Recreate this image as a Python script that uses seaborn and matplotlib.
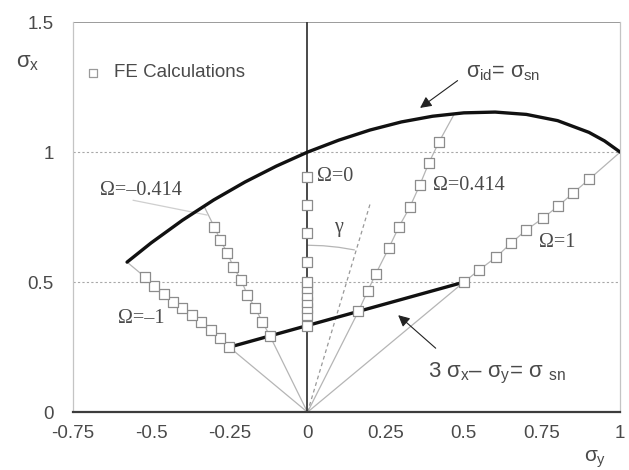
import pandas as pd
import matplotlib
matplotlib.use("Agg")
import matplotlib.pyplot as plt
import seaborn as sns

# ----------------------------
# Data
# ----------------------------
# outer curve  sigma_id = sigma_sn
curve_sy = [-0.577, -0.5, -0.4, -0.3, -0.2, -0.1, 0.0, 0.1, 0.2, 0.3, 0.4,
            0.5, 0.6, 0.7, 0.8, 0.9, 0.95, 1.0]
curve_sx = [0.577, 0.651, 0.738, 0.816, 0.885, 0.946, 1.0, 1.046, 1.085, 1.116,
            1.138, 1.151, 1.154, 1.145, 1.121, 1.076, 1.043, 1.0]

# lower limit line  3 sx - sy = ssn
line_sy = [-0.25, 0.5]
line_sx = [0.25, 0.5]

# FE calculations for each load ratio Omega
fe_m1_sy = [-0.25, -0.28, -0.31, -0.34, -0.37, -0.40, -0.43, -0.46, -0.49, -0.52]
fe_m1_sx = [0.25, 0.285, 0.315, 0.345, 0.375, 0.40, 0.425, 0.455, 0.485, 0.52]

fe_m0414_sy = [-0.12, -0.144, -0.167, -0.192, -0.212, -0.237, -0.256, -0.279, -0.298]
fe_m0414_sx = [0.293, 0.346, 0.40, 0.45, 0.508, 0.558, 0.612, 0.662, 0.712]

fe_0_sy = [0, 0, 0, 0, 0, 0, 0, 0, 0, 0, 0]
fe_0_sx = [0.333, 0.373, 0.40, 0.423, 0.45, 0.477, 0.50, 0.577, 0.688, 0.796, 0.904]

fe_p0414_sy = [0.163, 0.192, 0.218, 0.26, 0.292, 0.327, 0.359, 0.388, 0.42]
fe_p0414_sx = [0.388, 0.465, 0.531, 0.631, 0.712, 0.788, 0.873, 0.958, 1.038]

fe_p1_sy = [0.5, 0.548, 0.603, 0.651, 0.699, 0.753, 0.801, 0.849, 0.901]
fe_p1_sx = [0.5, 0.546, 0.596, 0.65, 0.70, 0.746, 0.792, 0.842, 0.896]

# where each load path meets the outer curve
end_sy = {"-1": -0.577, "-0.414": -0.33, "0.414": 0.47, "1": 1.0}
end_sx = {"-1": 0.577, "-0.414": 0.79, "0.414": 1.148, "1": 1.0}

# direction of angle gamma
gamma_sy = [0.0, 0.2]
gamma_sx = [0.0, 0.8]
arc_sy = [0.0, 0.05, 0.10, 0.15]
arc_sx = [0.642, 0.640, 0.634, 0.624]

xticks = [-0.75, -0.5, -0.25, 0, 0.25, 0.5, 0.75, 1]
xtick_labels = ["-0.75", "-0.5", "-0.25", "0", "0.25", "0.5", "0.75", "1"]
yticks = [0, 0.5, 1, 1.5]
ytick_labels = ["0", "0.5", "1", "1.5"]

# ----------------------------
# Style
# ----------------------------
sns.set_style("white")
plt.rcParams["font.family"] = ["Liberation Sans", "DejaVu Sans"]
plt.rcParams["mathtext.fontset"] = "custom"
plt.rcParams["mathtext.rm"] = "Liberation Sans"
plt.rcParams["mathtext.it"] = "Liberation Sans"

TXT = "#4a4a4a"
GRAY = "#b5b5b5"

fig = plt.figure(figsize=(6.29, 4.70), dpi=100)
ax = fig.add_axes([0.116, 0.123, 0.870, 0.830])

# ----------------------------
# Thin load paths
# ----------------------------
fe_sets = {
    "-1": (fe_m1_sy, fe_m1_sx),
    "-0.414": (fe_m0414_sy, fe_m0414_sx),
    "0": (fe_0_sy, fe_0_sx),
    "0.414": (fe_p0414_sy, fe_p0414_sx),
    "1": (fe_p1_sy, fe_p1_sx),
}
for key, (sy, sx) in fe_sets.items():
    if key == "0":
        continue
    px = [0.0] + sy + [end_sy[key]]
    py = [0.0] + sx + [end_sx[key]]
    ax.plot(px, py, color=GRAY, lw=0.9, zorder=2)

ax.plot(gamma_sy, gamma_sx, color="#999999", lw=0.9, ls=(0, (3, 2.5)), zorder=2)
ax.plot(arc_sy, arc_sx, color=GRAY, lw=0.9, zorder=2)

# grid lines and axis line at sy = 0
for yv in [0.5, 1.0]:
    ax.axhline(yv, color="#a8a8a8", lw=0.8, ls=(0, (2, 2)), zorder=1)
ax.axhline(1.5, color="#8a8a8a", lw=1.2, zorder=1)
ax.plot([0, 0], [0, 1.5], color="#3a3a3a", lw=1.3, zorder=2)

# ----------------------------
# Curves
# ----------------------------
curve_df = pd.DataFrame({"sy": curve_sy, "sx": curve_sx})
sns.lineplot(data=curve_df, x="sy", y="sx", sort=False, estimator=None,
             color="#111111", lw=2.4, ax=ax, zorder=4)

line_df = pd.DataFrame({"sy": line_sy, "sx": line_sx})
sns.lineplot(data=line_df, x="sy", y="sx", sort=False, estimator=None,
             color="#111111", lw=2.4, ax=ax, zorder=4)

# ----------------------------
# FE points
# ----------------------------
rows = []
for key, (sy, sx) in fe_sets.items():
    for a, b in zip(sy, sx):
        rows.append({"omega": key, "sy": a, "sx": b})
fe_df = pd.DataFrame(rows)
sns.scatterplot(data=fe_df, x="sy", y="sx", marker="s", s=46,
                facecolor="white", edgecolor="#8c8c8c", linewidth=0.9,
                ax=ax, zorder=5, legend=False)

# legend
ax.scatter([-0.685], [1.305], marker="s", s=36, facecolor="white",
           edgecolor="#9a9a9a", linewidth=0.9, zorder=5)
ax.text(-0.62, 1.305, "FE Calculations", fontsize=13.5, color=TXT,
        va="center", ha="left")

# ----------------------------
# Labels
# ----------------------------
serif = ["Liberation Serif", "DejaVu Serif"]
ax.text(-0.663, 0.854, "Ω=–0.414", family=serif, fontsize=14.5, color=TXT, va="center")
ax.plot([-0.558, -0.321], [0.815, 0.758], color="#cfcfcf", lw=0.9, zorder=2)
ax.text(-0.606, 0.362, "Ω=–1", family=serif, fontsize=14.5, color=TXT, va="center")
ax.text(0.030, 0.908, "Ω=0", family=serif, fontsize=14.5, color=TXT, va="center")
ax.text(0.40, 0.873, "Ω=0.414", family=serif, fontsize=14.5, color=TXT, va="center")
ax.text(0.74, 0.654, "Ω=1", family=serif, fontsize=14.5, color=TXT, va="center")
ax.text(0.10, 0.71, "γ", family=serif, fontsize=14.5, color=TXT, va="center", ha="center")

arrow = dict(arrowstyle="-|>", color="#222222", lw=0.8, mutation_scale=17,
             shrinkA=0, shrinkB=0)
ax.text(0.506, 1.308, r"$\sigma_{id}$= $\sigma_{sn}$", fontsize=15.5, color=TXT,
        va="center", ha="left")
ax.annotate("", xy=(0.36, 1.17), xytext=(0.48, 1.275), arrowprops=arrow)

ax.text(0.385, 0.15, r"3 $\sigma_x$– $\sigma_y$= $\sigma\ _{sn}$", fontsize=16,
        color=TXT, va="center", ha="left")
ax.annotate("", xy=(0.29, 0.373), xytext=(0.41, 0.246), arrowprops=arrow)

fig.text(16 / 629, 1 - 63 / 470, r"$\sigma_x$", fontsize=16, color=TXT,
         ha="left", va="center")
fig.text(595 / 629, 1 - 459 / 470, r"$\sigma_y$", fontsize=15, color=TXT,
         ha="center", va="center")

# ----------------------------
# Axes
# ----------------------------
ax.set_xlim(-0.75, 1.0)
ax.set_ylim(0, 1.5)
ax.set_xticks(xticks)
ax.set_xticklabels(xtick_labels)
ax.set_yticks(yticks)
ax.set_yticklabels(ytick_labels)
ax.set_xlabel("")
ax.set_ylabel("")
ax.tick_params(axis="x", direction="inout", length=9, width=1.2, colors="#444444",
               labelsize=13.5, pad=5, labelcolor=TXT)
ax.tick_params(axis="y", length=0, labelsize=13.5, pad=14, labelcolor=TXT)

for side in ["left", "right", "top"]:
    ax.spines[side].set_color("#c4c4c4")
    ax.spines[side].set_linewidth(0.9)
ax.spines["top"].set_visible(False)
ax.spines["bottom"].set_color("#3c3c3c")
ax.spines["bottom"].set_linewidth(1.6)

fig.savefig("out.png", dpi=100)
